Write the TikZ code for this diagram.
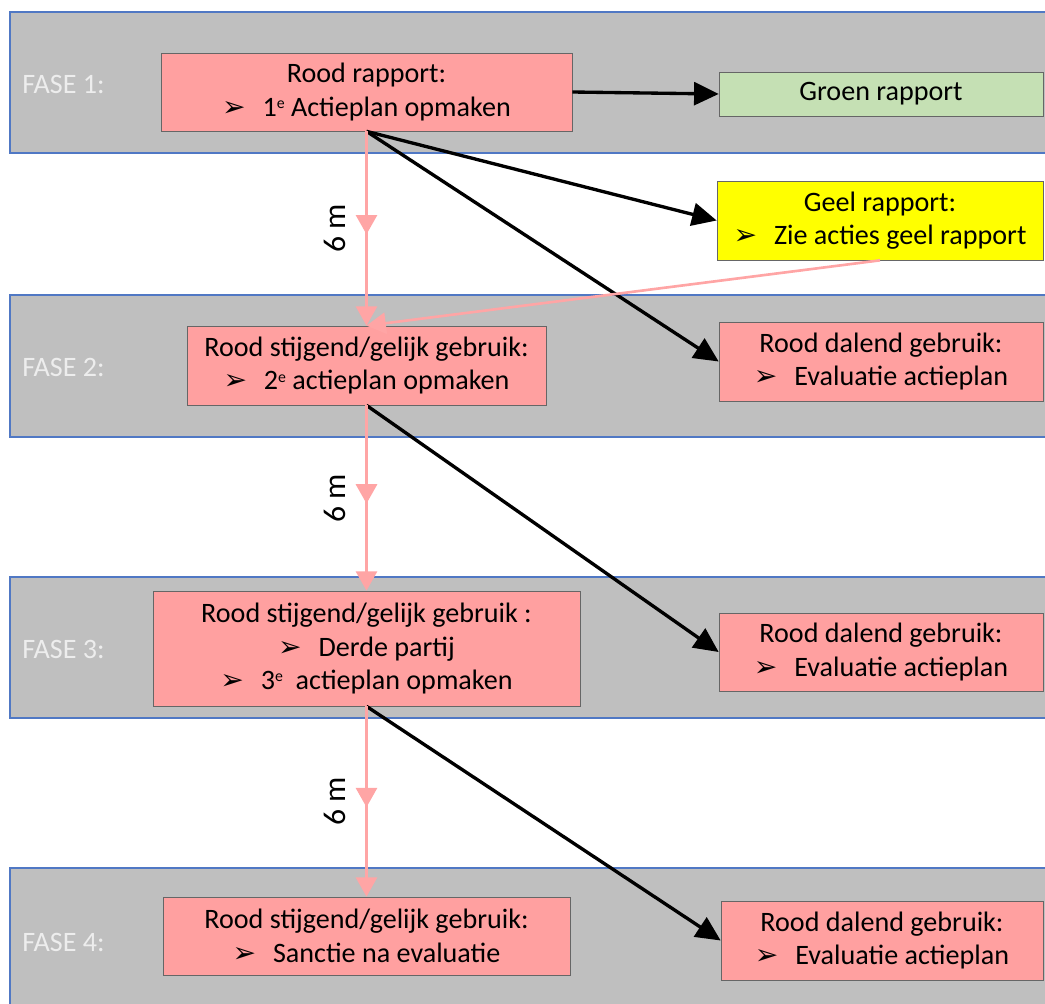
\documentclass[tikz,border=0pt]{standalone}
\usepackage{fontspec}
\setmainfont{Carlito}
\newfontfamily\symfont{DejaVu Sans}
\usetikzlibrary{arrows.meta,decorations.markings}
\definecolor{band-gray}{RGB}{191,191,191}
\definecolor{band-blue}{RGB}{80,120,196}
\definecolor{rood}{RGB}{255,160,160}
\definecolor{rood-line}{RGB}{255,165,165}
\definecolor{groen}{RGB}{197,224,180}
\definecolor{geel}{RGB}{255,255,0}
\newcommand{\pijl}{{\symfont ➢}\hspace{0.6em}}
\newcommand{\ste}{\raisebox{0.55ex}{\fontsize{9}{9}\selectfont e}}
\tikzset{
    fase-band/.style = {draw=band-blue, fill=band-gray, line width=0.7pt},
    fase-label/.style = {text=white!93!black, anchor=west, inner sep=0pt, font=\fontsize{16}{19}\selectfont},
    report-box/.style = {draw=black!60, fill=rood, rectangle, thin, inner sep=0pt, align=center, font=\fontsize{16}{19}\selectfont},
    black-arrow/.style = {-{Triangle[width=13pt,length=14pt]}, line width=1.9pt},
    pink-arrow/.style = {draw=rood-line, -{Triangle[width=12pt,length=11pt]}, line width=1.5pt},
    mid-arrow/.style = {postaction={decorate}, decoration={markings, mark=at position 0.53 with {\arrow{Triangle[width=12pt,length=11pt]}}}},
    months/.style = {rotate=90, anchor=south, inner sep=11pt, font=\fontsize{18}{21}\selectfont},
}

\begin{document}
\begin{tikzpicture}[x=0.02cm, y=-0.02cm]
\useasboundingbox (0,0) rectangle (1045,1004);
% fases
\draw[fase-band] (10,12) rectangle (1060,153);
\draw[fase-band] (10,295) rectangle (1060,437);
\draw[fase-band] (10,577) rectangle (1060,718);
\draw[fase-band] (10,868) rectangle (1060,1020);
\node[fase-label] (fase1) at (22,84) {FASE 1:};
\node[fase-label] (fase2) at (22,367) {FASE 2:};
\node[fase-label] (fase3) at (22,649) {FASE 3:};
\node[fase-label] (fase4) at (22,942) {FASE 4:};

% rapporten
\node[report-box, minimum width=8.22cm, minimum height=1.56cm] (rood1) at (366.5,92)
    {Rood rapport:\\ \pijl 1\ste\ Actieplan opmaken};
\node[report-box, fill=groen, minimum width=6.48cm, minimum height=0.88cm] (groen) at (881,94)
    {Groen rapport};
\node[report-box, fill=geel, minimum width=6.52cm, minimum height=1.58cm] (geel) at (880,220.5)
    {Geel rapport:\\ \pijl Zie acties geel rapport};
\node[report-box, minimum width=7.18cm, minimum height=1.58cm] (rood2) at (366.5,365.5)
    {Rood stijgend/gelijk gebruik:\\ \pijl 2\ste\ actieplan opmaken};
\node[report-box, minimum width=6.48cm, minimum height=1.58cm] (dalend2) at (881,361.5)
    {Rood dalend gebruik:\\ \pijl Evaluatie actieplan};
\node[report-box, minimum width=8.54cm, minimum height=2.30cm] (rood3) at (366.5,648.5)
    {Rood stijgend/gelijk gebruik :\\ \pijl Derde partij\\ \pijl 3\ste\ \ actieplan opmaken};
\node[report-box, minimum width=6.48cm, minimum height=1.56cm] (dalend3) at (881,652)
    {Rood dalend gebruik:\\ \pijl Evaluatie actieplan};
\node[report-box, minimum width=8.14cm, minimum height=1.56cm] (rood4) at (366.5,936)
    {Rood stijgend/gelijk gebruik:\\ \pijl Sanctie na evaluatie};
\node[report-box, minimum width=6.44cm, minimum height=1.58cm] (dalend4) at (882,940.5)
    {Rood dalend gebruik:\\ \pijl Evaluatie actieplan};

% pijlen
\draw[black-arrow] (rood1.east) -- (groen.west);
\draw[black-arrow] (rood1.south) -- (geel.west);
\draw[black-arrow] (rood1.south) -- (dalend2.west);
\draw[black-arrow] (rood2.south) -- (dalend3.west);
\draw[black-arrow] (rood3.south) -- (dalend4.west);
\draw[pink-arrow, mid-arrow] (rood1.south) -- node[months, pos=.5] (m1) {6 m} (rood2.north);
\draw[pink-arrow] (geel.south) -- (rood2.north);
\draw[pink-arrow, mid-arrow] (rood2.south) -- node[months, pos=.5] (m2) {6 m} (rood3.north);
\draw[pink-arrow, mid-arrow] (rood3.south) -- node[months, pos=.5] (m3) {6 m} (rood4.north);
\end{tikzpicture}
\end{document}
